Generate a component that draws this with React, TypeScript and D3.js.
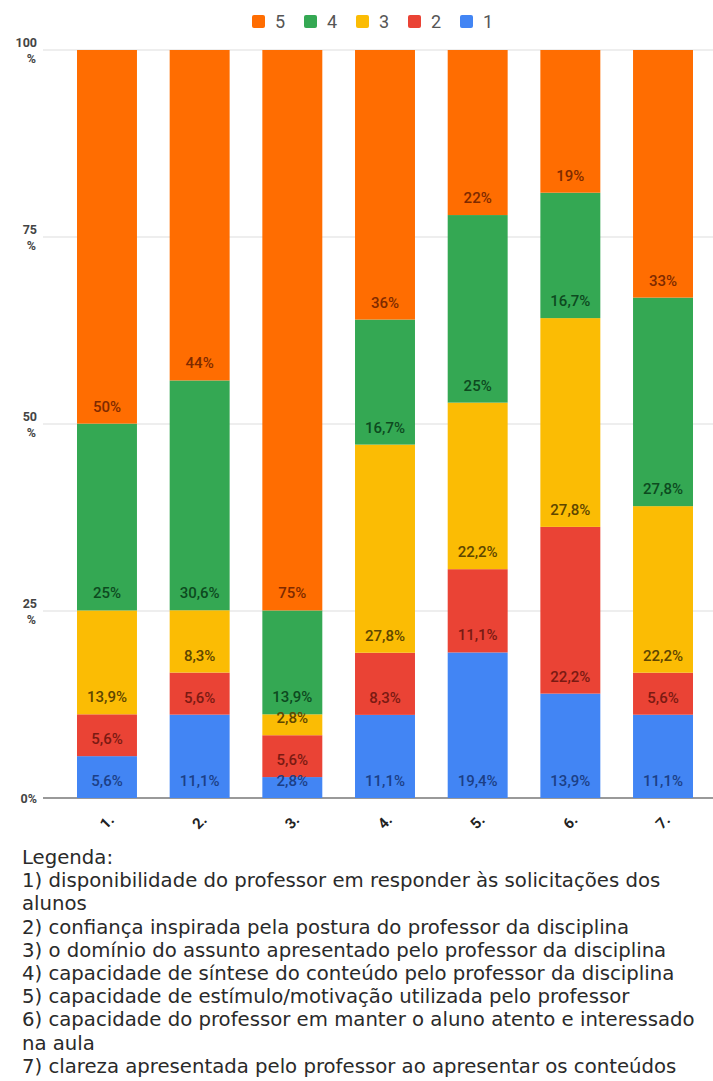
import React from "react";
import * as d3 from "d3";

// Questions (x categories) and rating levels
const categories = ["1.", "2.", "3.", "4.", "5.", "6.", "7."];
const ratingKeys = ["1", "2", "3", "4", "5"];

// Share of answers per rating (%), one entry per question
const rating1 = [5.6, 11.1, 2.8, 11.1, 19.4, 13.9, 11.1];
const rating2 = [5.6, 5.6, 5.6, 8.3, 11.1, 22.2, 5.6];
const rating3 = [13.9, 8.3, 2.8, 27.8, 22.2, 27.8, 22.2];
const rating4 = [25, 30.6, 13.9, 16.7, 25, 16.7, 27.8];
const rating5 = [50, 44, 75, 36, 22, 19, 33];

const yTicks = [0, 0.25, 0.5, 0.75, 1];

const legendLines = [
  "Legenda:",
  "1) disponibilidade do professor em responder às solicitações dos",
  "alunos",
  "2) confiança inspirada pela postura do professor da disciplina",
  "3) o domínio do assunto apresentado pelo professor da disciplina",
  "4) capacidade de síntese do conteúdo pelo professor da disciplina",
  "5) capacidade de estímulo/motivação utilizada pelo professor",
  "6) capacidade do professor em manter o aluno atento e interessado",
  "na aula",
  "7) clareza apresentada pelo professor ao apresentar os conteúdos",
];

const fillColors: Record<string, string> = {
  "1": "#4285F4",
  "2": "#EA4335",
  "3": "#FBBC04",
  "4": "#34A853",
  "5": "#FF6D01",
};
const labelColors: Record<string, string> = {
  "1": "#1c3f86",
  "2": "#7a1a12",
  "3": "#5e4600",
  "4": "#0d4a1f",
  "5": "#7e2a00",
};

const W = 713;
const H = 1081;

const fmt = (v: number) =>
  (Number.isInteger(v) ? String(v) : v.toFixed(1).replace(".", ",")) + "%";

export default function App() {
  const seriesByKey: Record<string, number[]> = {
    "1": rating1,
    "2": rating2,
    "3": rating3,
    "4": rating4,
    "5": rating5,
  };
  const rows = categories.map((c, i) => {
    const r: any = { cat: c };
    ratingKeys.forEach((k) => (r[k] = seriesByKey[k][i]));
    return r;
  });
  const stacked = d3
    .stack<any>()
    .keys(ratingKeys)
    .offset(d3.stackOffsetExpand)(rows);

  const x = d3
    .scaleBand<string>()
    .domain(categories)
    .range([77, 693])
    .paddingInner(0.353)
    .paddingOuter(0);
  const y = d3.scaleLinear().domain([0, 1]).range([798, 50]);

  const legendOrder = ["5", "4", "3", "2", "1"];

  return (
    <div style={{ position: "absolute", left: 0, top: 0 }}>
      <svg width={W} height={H} style={{ display: "block", background: "#fff" }}>
        {/* top legend */}
        <g fontFamily="Roboto, sans-serif" fontSize={18} fill="#555">
          {legendOrder.map((k, i) => {
            const lx = 252 + i * 52;
            return (
              <g key={k}>
                <rect x={lx} y={15} width={13} height={13} rx={2} fill={fillColors[k]} />
                <text x={lx + 23} y={28}>
                  {k}
                </text>
              </g>
            );
          })}
        </g>

        {/* gridlines and y labels */}
        {yTicks.map((t) => (
          <g key={t}>
            <line
              x1={43}
              x2={W}
              y1={y(t)}
              y2={y(t)}
              stroke={t === 0 ? "#777" : "#ddd"}
              strokeWidth={t === 0 ? 1.5 : 1}
            />
            {t === 0 ? (
              <text
                x={37}
                y={y(t) + 4.5}
                textAnchor="end"
                fontFamily="Roboto, sans-serif"
                fontWeight={700}
                fontSize={12.5}
                fill="#444"
              >
                0%
              </text>
            ) : (
              <text
                textAnchor="end"
                fontFamily="Roboto, sans-serif"
                fontWeight={700}
                fontSize={12.5}
                fill="#444"
              >
                <tspan x={37} y={y(t) - 3}>
                  {Math.round(t * 100)}
                </tspan>
                <tspan x={36} y={y(t) + 12.5}>
                  %
                </tspan>
              </text>
            )}
          </g>
        ))}

        {/* stacked bars */}
        {stacked.map((layer) => (
          <g key={layer.key} fill={fillColors[layer.key]}>
            {layer.map((d, i) => (
              <rect
                key={i}
                x={x(categories[i])}
                width={x.bandwidth()}
                y={y(d[1])}
                height={y(d[0]) - y(d[1])}
              />
            ))}
          </g>
        ))}

        {/* value labels near the base of each segment */}
        {stacked.map((layer) => (
          <g
            key={"l" + layer.key}
            fill={labelColors[layer.key]}
            fontFamily="Roboto, sans-serif"
            fontWeight={500}
            fontSize={15}
            textAnchor="middle"
          >
            {layer.map((d, i) => (
              <text
                key={i}
                x={(x(categories[i]) as number) + x.bandwidth() / 2}
                y={y(d[0]) - 12}
              >
                {fmt(seriesByKey[layer.key][i])}
              </text>
            ))}
          </g>
        ))}

        {/* x axis labels */}
        {categories.map((c) => {
          const cx = (x(c) as number) + x.bandwidth() / 2;
          return (
            <text
              key={c}
              transform={`translate(${cx},${822}) rotate(-45)`}
              textAnchor="middle"
              dominantBaseline="central"
              fontFamily="Roboto, sans-serif"
              fontWeight={700}
              fontSize={15}
              fill="#222"
            >
              {c}
            </text>
          );
        })}

        {/* question key below the chart */}
        <g fontFamily="'DejaVu Sans', sans-serif" fontSize={19.7} fill="#2a2a2a">
          {legendLines.map((l, i) => (
            <text key={i} x={22} y={864 + i * 23.2}>
              {l}
            </text>
          ))}
        </g>
      </svg>
    </div>
  );
}
